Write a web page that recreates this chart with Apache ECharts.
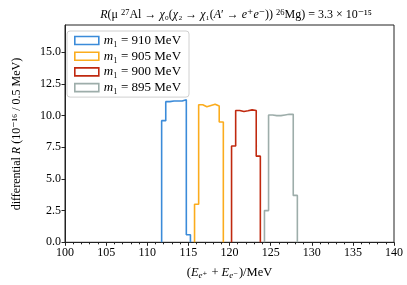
<!DOCTYPE html>
<html>
<head>
<meta charset="utf-8">
<script src="https://cdn.jsdelivr.net/npm/echarts@6/dist/echarts.min.js"></script>
<style>html,body{margin:0;padding:0;background:#fff}#c{width:407px;height:285px}</style>
</head>
<body>
<div id="c"></div>
<script>
// ---- data ----
var binWidth = 0.5;
var seriesNames = ['910', '905', '900', '895'];
var seriesStarts = [111.75, 115.75, 120.25, 124.25];
var blueVals = [9.6, 11.1, 11.15, 11.15, 11.15, 11.25, 0.6];
var orangeVals = [3.0, 10.85, 10.7, 10.8, 10.9, 10.75, 9.5];
var redVals = [7.6, 10.4, 10.32, 10.38, 10.45, 10.4, 6.8];
var grayVals = [2.5, 10.05, 10.0, 10.0, 10.05, 10.1, 10.1, 3.7];
var xTicks = [100, 105, 110, 115, 120, 125, 130, 135, 140];
var yTicks = [0, 2.5, 5, 7.5, 10, 12.5, 15];

var colors = ['#3b8bd9', '#fbac1d', '#c0290f', '#9dadaa'];
var allVals = [blueVals, orangeVals, redVals, grayVals];
var FONT = '"Liberation Serif", "DejaVu Serif", serif';

function stepPoints(start, vals) {
  var pts = [[start, 0]];
  for (var i = 0; i < vals.length; i++) {
    var a = start + i * binWidth, b = a + binWidth;
    pts.push([a, vals[i]]);
    pts.push([b, vals[i]]);
  }
  pts.push([start + vals.length * binWidth, 0]);
  return pts;
}

var series = allVals.map(function (v, k) {
  return {
    name: seriesNames[k],
    type: 'line',
    data: stepPoints(seriesStarts[k], v),
    symbol: 'none',
    lineStyle: { color: colors[k], width: 1.6 },
    itemStyle: { color: colors[k] },
    animation: false,
    z: 3
  };
});

var chart = echarts.init(document.getElementById('c'), null, { renderer: 'canvas' });
chart.setOption({
  animation: false,
  backgroundColor: '#fff',
  title: {
    text: '{i|R}(\u03bc {s|27}Al \u2192 {i|\u03c7}\u2080({i|\u03c7}\u2082 \u2192 {i|\u03c7}\u2081({i|A}\u2032 \u2192 {i|e}\u207a{i|e}\u207b)) {s|26}Mg) = 3.3 \u00d7 10\u207b\u00b9\u2075',
    left: 231,
    textAlign: 'center',
    top: 3,
    textStyle: {
      fontFamily: FONT, fontSize: 12, fontWeight: 'normal', color: '#000',
      rich: { i: { fontStyle: 'italic', fontFamily: FONT, fontSize: 12, color: '#000' },
              s: { fontFamily: FONT, fontSize: 8.5, color: '#000', verticalAlign: 'top', padding: [0, 0, 4, 0] } }
    }
  },
  grid: { left: 65, right: 13, top: 25, bottom: 42.7, containLabel: false, outerBoundsMode: 'none',
          show: true, borderColor: '#222', borderWidth: 1, backgroundColor: 'transparent' },
  legend: {
    orient: 'vertical',
    left: 67,
    top: 31,
    padding: [3, 8, 3, 7],
    itemWidth: 24,
    itemHeight: 8,
    itemGap: 2.7,
    backgroundColor: '#fff',
    borderColor: '#d0d0d0',
    borderWidth: 1,
    borderRadius: 3,
    textStyle: { fontFamily: FONT, fontSize: 13, color: '#000', lineHeight: 13,
      rich: { i: { fontStyle: 'italic', fontFamily: FONT, fontSize: 13 } } },
    formatter: function (n) { return '{i|m}\u2081 = ' + n + ' MeV'; },
    data: seriesNames.map(function (n, k) {
      return { name: n, icon: 'rect', itemStyle: { color: '#fff', borderColor: colors[k], borderWidth: 1.6 } };
    })
  },
  xAxis: {
    type: 'value', min: 100, max: 140, interval: 5,
    axisLine: { show: true, onZero: false, lineStyle: { color: '#222', width: 1 } },
    axisTick: { show: true, length: 3.5, inside: false, lineStyle: { color: '#222' } },
    minorTick: { show: true, splitNumber: 5, length: 2, lineStyle: { color: '#222' } },
    axisLabel: { fontFamily: FONT, fontSize: 12, color: '#000', margin: 5, customValues: xTicks },
    splitLine: { show: false },
    name: '({i|E}{s|e\u207a} + {i|E}{s|e\u207b})/MeV',
    nameLocation: 'middle',
    nameGap: 22,
    nameTextStyle: { fontFamily: FONT, fontSize: 12.5, color: '#000',
      rich: { i: { fontStyle: 'italic', fontFamily: FONT, fontSize: 12.5 },
              s: { fontStyle: 'italic', fontFamily: FONT, fontSize: 9, verticalAlign: 'bottom', padding: [7, 1, 0, 0] } } }
  },
  yAxis: {
    type: 'value', min: 0, max: 17.15,
    axisLine: { show: true, lineStyle: { color: '#222', width: 1 } },
    axisTick: { show: true, length: 3.5, inside: false, lineStyle: { color: '#222' }, customValues: yTicks },
    axisLabel: { fontFamily: FONT, fontSize: 12, color: '#000', margin: 4, customValues: yTicks,
      formatter: function (v) { return v.toFixed(1); } },
    splitLine: { show: false }
  },
  graphic: [{
    type: 'text',
    x: 17, y: 134,
    rotation: Math.PI / 2,
    style: {
      text: 'differential {i|R} (10\u207b\u00b9\u2076 / 0.5 MeV)',
      fontFamily: FONT, fontSize: 12, fill: '#000',
      align: 'center', verticalAlign: 'middle',
      rich: { i: { fontStyle: 'italic', fontFamily: FONT, fontSize: 12 } }
    }
  }],
  series: series
});
</script>
</body>
</html>
